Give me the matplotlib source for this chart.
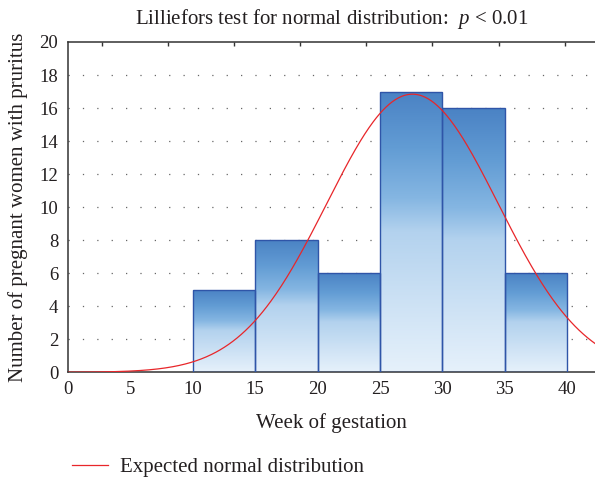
"""
Histogram of gestation week with expected normal curve (Lilliefors test).
"""
import numpy as np
import matplotlib
matplotlib.use('Agg')
import matplotlib.pyplot as plt
from matplotlib.colors import LinearSegmentedColormap

# --- data ---
BIN_EDGES = [10, 15, 20, 25, 30, 35, 40]
COUNTS = [5, 8, 6, 17, 16, 6]
MU = 27.6        # fitted mean (weeks)
SIGMA = 6.87     # fitted sd (weeks)
X_TICKS = [0, 5, 10, 15, 20, 25, 30, 35, 40]
Y_TICKS = [0, 2, 4, 6, 8, 10, 12, 14, 16, 18, 20]
TOP_TICKS = [2.7, 8.0, 13.3, 18.6, 23.9, 29.2, 34.5, 39.8]

TITLE = 'Lilliefors test for normal distribution:  $p$ < 0.01'
XLABEL = 'Week of gestation'
YLABEL = 'Number of pregnant women with pruritus'
LEGEND = 'Expected normal distribution'

plt.rcParams.update({
    'font.family': 'serif',
    'font.serif': ['Liberation Serif', 'DejaVu Serif'],
    'mathtext.fontset': 'custom',
    'mathtext.it': 'Liberation Serif:italic',
    'mathtext.rm': 'Liberation Serif',
    'font.size': 12,
})
TXT = '#231f20'

fig = plt.figure(figsize=(5.95, 4.83), dpi=100)
fig.patch.set_facecolor('white')
ax = fig.add_axes([68 / 595, 1 - 372.3 / 483, 1 - 68 / 595, (372.3 - 42) / 483])

xmin, xmax = 0, (595 - 68) / 12.48

# dotted horizontal grid
for y in Y_TICKS[1:-1]:
    ax.axhline(y, color='#666666', linewidth=0.9, linestyle=(0, (1, 10.5)), zorder=1)

# gradient bars
grad_cmap = LinearSegmentedColormap.from_list('bar_grad', [
    (0.00, '#e6f1fb'),
    (0.50, '#b3d2ee'),
    (0.62, '#85b6e2'),
    (0.80, '#629cd4'),
    (1.00, '#4a82c4'),
])
grad = np.linspace(0, 1, 256).reshape(-1, 1)
widths = np.diff(BIN_EDGES)
bars = ax.bar(BIN_EDGES[:-1], COUNTS, width=widths, align='edge',
              facecolor='none', edgecolor='#2f55a8', linewidth=1.0, zorder=3)
for bar in bars:
    x0, w, h = bar.get_x(), bar.get_width(), bar.get_height()
    im = ax.imshow(grad, extent=[x0, x0 + w, 0, h], origin='lower',
                   aspect='auto', cmap=grad_cmap, zorder=2)
    im.set_clip_path(bar)

# expected normal curve, scaled to counts
n_total = sum(COUNTS)
bin_w = BIN_EDGES[1] - BIN_EDGES[0]
xs = np.linspace(xmin, xmax, 500)
ys = n_total * bin_w * np.exp(-0.5 * ((xs - MU) / SIGMA) ** 2) / (SIGMA * np.sqrt(2 * np.pi))
line, = ax.plot(xs, ys, color='#e8262a', linewidth=0.9, zorder=4, label=LEGEND)

ax.set_xlim(xmin, xmax)
ax.set_ylim(0, 20)
ax.set_xticks(X_TICKS)
ax.set_yticks(Y_TICKS)
ax.tick_params(axis='both', length=0, labelsize=13.5, colors=TXT)
ax.tick_params(axis='x', pad=6)
ax.tick_params(axis='y', pad=7)
for s in ['left', 'bottom', 'top']:
    ax.spines[s].set_color('#333333')
    ax.spines[s].set_linewidth(1.1)
ax.spines['right'].set_visible(False)

# top axis ticks (unlabelled)
ax2 = ax.twiny()
ax2.set_xlim(xmin, xmax)
ax2.set_xticks(TOP_TICKS)
ax2.set_xticklabels([])
ax2.tick_params(axis='x', direction='in', length=3, width=1, color='#333333')
for s in ax2.spines.values():
    s.set_visible(False)

ax.set_title(TITLE, fontsize=15, color=TXT, pad=13)
ax.set_xlabel(XLABEL, fontsize=15, color=TXT, labelpad=11)
ax.set_ylabel(YLABEL, fontsize=15, color=TXT, labelpad=8)

fig.legend(handles=[line], labels=[LEGEND], loc='center left',
           bbox_to_anchor=(72 / 595, 1 - 467 / 483), frameon=False,
           borderpad=0, borderaxespad=0, handlelength=1.75, handletextpad=0.55,
           fontsize=15, labelcolor=TXT)

fig.savefig('out.png', dpi=100, facecolor='white')
